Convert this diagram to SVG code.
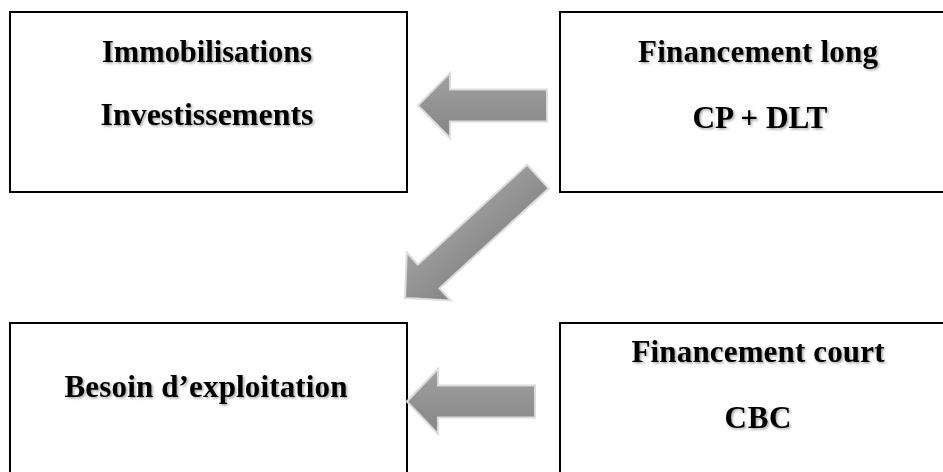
<svg xmlns="http://www.w3.org/2000/svg" width="943" height="472" viewBox="0 0 943 472">
  <style>
    .box { fill: #ffffff; stroke: #000000; stroke-width: 2; }
    .lbl { font-family: "Liberation Serif", "Times New Roman", serif; font-weight: bold; font-size: 31px; fill: #000000; text-anchor: middle; filter: url(#shadow); }
    .arrow { fill: url(#grad); stroke: #dcdcdc; stroke-width: 2; stroke-linejoin: miter; }
  </style>
  <defs>
    <filter id="shadow" x="-10%" y="-30%" width="120%" height="160%">
      <feDropShadow dx="1.5" dy="1.5" stdDeviation="1.2" flood-color="#000000" flood-opacity="0.35"/>
    </filter>
    <linearGradient id="grad" x1="0" y1="0" x2="0" y2="1">
      <stop offset="0" stop-color="#a0a0a0"/>
      <stop offset="1" stop-color="#858585"/>
    </linearGradient>
  </defs>
  <rect x="0" y="0" width="943" height="472" fill="#ffffff"/>

  <g id="node-immobilisations">
    <rect class="box" x="10" y="12" width="397" height="180"/>
    <text class="lbl" x="207" y="62" textLength="210" lengthAdjust="spacingAndGlyphs">Immobilisations</text>
    <text class="lbl" x="207" y="125" textLength="213" lengthAdjust="spacingAndGlyphs">Investissements</text>
  </g>

  <g id="node-financement-long">
    <rect class="box" x="560" y="12" width="400" height="180"/>
    <text class="lbl" x="758" y="62" textLength="240" lengthAdjust="spacing">Financement long</text>
    <text class="lbl" x="760" y="128" textLength="135" lengthAdjust="spacingAndGlyphs">CP + DLT</text>
  </g>

  <g id="node-besoin">
    <rect class="box" x="10" y="323" width="397" height="160"/>
    <text class="lbl" x="206" y="397" textLength="283" lengthAdjust="spacing">Besoin d’exploitation</text>
  </g>

  <g id="node-financement-court">
    <rect class="box" x="560" y="323" width="400" height="160"/>
    <text class="lbl" x="758" y="362" textLength="253" lengthAdjust="spacing">Financement court</text>
    <text class="lbl" x="758" y="428" textLength="67" lengthAdjust="spacing">CBC</text>
  </g>

  <g id="connectors">
    <polygon class="arrow" transform="translate(418,105.5)" points="0,0 32,-32.5 32,-16 129,-16 129,16 32,16 32,32.5"/>
    <polygon class="arrow" transform="translate(405,298) rotate(-42.4)" points="0,0 32,-32.5 32,-16 180,-16 180,16 32,16 32,32.5"/>
    <polygon class="arrow" transform="translate(407,401.5)" points="0,0 31,-32.5 31,-16 128,-16 128,16 31,16 31,32.5"/>
  </g>
</svg>
